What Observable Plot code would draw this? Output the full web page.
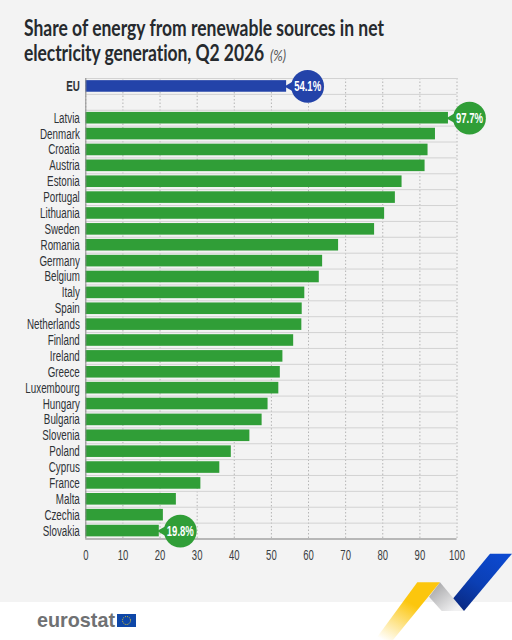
<!DOCTYPE html>
<html>
<head>
<meta charset="utf-8">
<script src="https://cdn.jsdelivr.net/npm/d3@7"></script>
<script src="https://cdn.jsdelivr.net/npm/@observablehq/plot@0.6"></script>
<style>
  html, body { margin: 0; padding: 0; background: #fff; }
  #page { position: relative; width: 512px; height: 640px; overflow: hidden; background: #fff; }
  #band { position: absolute; left: 0; top: 0; width: 512px; height: 602px; background: #f3f3f3; }
  #title { position: absolute; left: 24px; top: 16px; white-space: nowrap; transform-origin: 0 0; font: 700 22px/24.5px Lato, sans-serif; color: #262a2e; }
  #title .line2 { letter-spacing: -0.1px; }
  #title .unit { font: italic 400 16px Lato, sans-serif; color: #555; margin-left: 2px; letter-spacing: 0; }
  #chart { position: absolute; left: 0; top: 70px; }
  #deco { position: absolute; left: 0; top: 0; }
</style>
</head>
<body>
<div id="page">
  <div id="band"></div>
  <svg id="deco" width="512" height="640" viewBox="0 0 512 640">
    <defs>
      <linearGradient id="gy" x1="0.75" y1="0" x2="0.12" y2="1">
        <stop offset="0.35" stop-color="#fcc60d"/><stop offset="1" stop-color="#fff"/>
      </linearGradient>
      <linearGradient id="gg" x1="0" y1="0" x2="1" y2="1">
        <stop offset="0.1" stop-color="#a6a6a8"/><stop offset="0.85" stop-color="#f1f1f2"/>
      </linearGradient>
      <linearGradient id="gb" x1="0.2" y1="1" x2="0.8" y2="0">
        <stop offset="0" stop-color="#0a2a84"/><stop offset="0.45" stop-color="#0b3fb4"/><stop offset="1" stop-color="#0c49d0"/>
      </linearGradient>
    </defs>
    <polygon points="440,582.3 464,611 441.7,611 429,596.7" fill="url(#gg)"/>
    <polygon points="417.3,582.3 440,582.3 393,640 375,640" fill="url(#gy)"/>
    <polygon points="490,553.7 512,553.7 464,611 453.3,598.3" fill="url(#gb)"/>
    <text x="37" y="627" font-family="Liberation Sans, sans-serif" font-weight="700" font-size="21" fill="#6f7173" textLength="78" lengthAdjust="spacingAndGlyphs">eurostat</text>
    <rect x="117" y="614" width="19" height="13" fill="#0e47a8"/>
    <circle cx="126.5" cy="620.5" r="4" fill="none" stroke="#f5d21f" stroke-width="1" stroke-dasharray="1 1.1"/>
  </svg>
  <div id="title"><span id="line1">Share of energy from renewable sources in net</span><br><span class="line2">electricity generation, Q2 2026 <span class="unit">(%)</span></span></div>
  <div id="chart"></div>
</div>
<script>
const euLabel = "EU";
const euValue = 54.1;
const countries = ["Latvia","Denmark","Croatia","Austria","Estonia","Portugal","Lithuania","Sweden","Romania","Germany","Belgium","Italy","Spain","Netherlands","Finland","Ireland","Greece","Luxembourg","Hungary","Bulgaria","Slovenia","Poland","Cyprus","France","Malta","Czechia","Slovakia"];
const shares = [97.7,94.2,92.2,91.4,85.2,83.4,80.5,77.8,68.1,63.8,62.9,59.0,58.3,58.2,56.0,53.1,52.4,52.0,49.1,47.5,44.2,39.2,36.1,31.0,24.4,20.9,19.8];
const xTicks = [0,10,20,30,40,50,60,70,80,90,100];
const highlighted = ["Latvia","Slovakia"];
const blank = " ";

const euRow = [{name: euLabel, value: euValue}];
const rows = countries.map((name, i) => ({name, value: shares[i]}));
const callouts = rows.filter(d => highlighted.includes(d.name));
const domain = [euLabel, blank, ...countries];

const blue = "#2343a9", green = "#309e37";
const font = '"Liberation Sans", sans-serif';
const step = 460.5 / domain.length;

function bubble(data, fill) {
  return [
    Plot.dot(data, {x: "value", y: "name", dx: 21, r: 16.4, fill, stroke: null}),
    Plot.dot(data, {x: "value", y: "name", dx: 4, r: 4, symbol: "triangle", rotate: -90, fill, stroke: null}),
    Plot.text(data, {x: "value", y: "name", dx: 21, text: d => d.value.toFixed(1) + "%", fill: "#fff", fontSize: 14, fontWeight: 700})
  ];
}

const plot = Plot.plot({
  width: 512, height: 532,
  marginLeft: 85.3, marginRight: 55.5, marginTop: 8, marginBottom: 63.5,
  style: {background: "transparent", fontFamily: font, overflow: "visible"},
  x: {domain: [0, 100], label: null},
  y: {domain, label: null, paddingInner: 0.27, paddingOuter: 0.135, round: false},
  marks: [
    Plot.ruleX(xTicks, {stroke: "#b5b5b5", strokeDasharray: "1.5 2", strokeWidth: 1}),
    Plot.ruleY(domain, {y: d => d, x1: 0, x2: 100, dy: step / 2, stroke: "#d2d2d2", strokeWidth: 1}),
    Plot.ruleY([euLabel], {y: d => d, x1: 0, x2: 100, dy: -step / 2, stroke: "#d2d2d2", strokeWidth: 1}),
    Plot.barX(euRow, {x: "value", y: "name", fill: blue}),
    Plot.barX(rows, {x: "value", y: "name", fill: green}),
    Plot.ruleX([0], {stroke: "#8d8d8d", strokeWidth: 1}),
    Plot.ruleY([countries[countries.length - 1]], {y: d => d, x1: 0, x2: 100, dy: step / 2, stroke: "#a8a8a8", strokeWidth: 1.4}),
    Plot.axisY(countries, {ticks: countries, tickSize: 0, tickPadding: 6, fontSize: 14, fill: "#2e3236", label: null}),
    Plot.axisY([euLabel], {ticks: [euLabel], tickSize: 0, tickPadding: 6, fontSize: 14, fontWeight: 700, fill: "#2e3236", label: null}),
    Plot.axisX({ticks: xTicks, tickSize: 0, tickPadding: 11, fontSize: 14, fill: "#3a3e42", label: null}),
    ...bubble(euRow, blue),
    ...bubble(callouts, green)
  ]
});
document.getElementById("chart").appendChild(plot);

// The reference uses a condensed face: narrow the installed one, keeping real text.
const narrowing = [
  ['g[aria-label="y-axis tick label"] text', 0.70],
  ['g[aria-label="x-axis tick label"] text', 0.68],
  ['g[aria-label="text"] text', 0.68]
];
for (const [selector, k] of narrowing) {
  plot.querySelectorAll(selector).forEach(t => {
    t.setAttribute("textLength", t.getComputedTextLength() * k);
    t.setAttribute("lengthAdjust", "spacingAndGlyphs");
  });
}
const title = document.getElementById("title");
title.style.transform = `scaleX(${360 / document.getElementById("line1").getBoundingClientRect().width})`;
</script>
</body>
</html>
